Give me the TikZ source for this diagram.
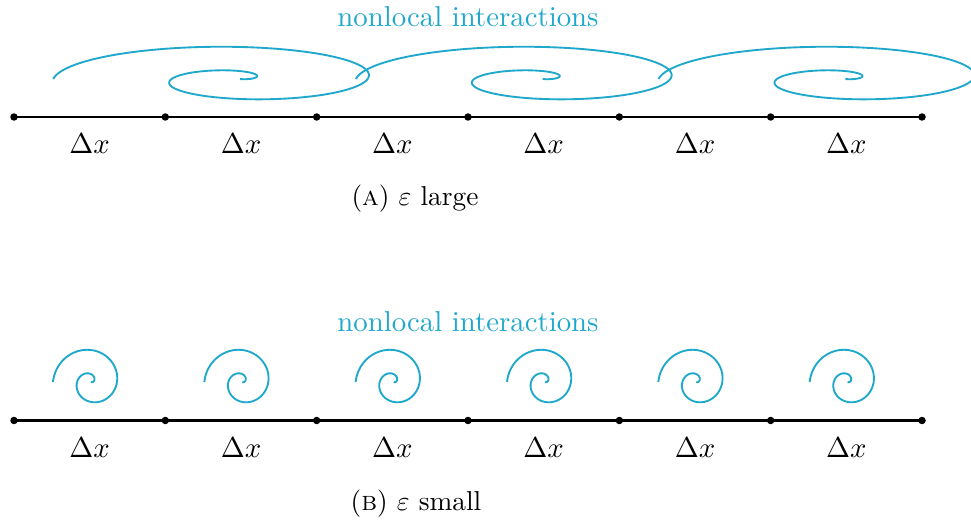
\documentclass[tikz,border=0pt]{standalone}
\usepackage{amsmath}
\definecolor{nlblue}{RGB}{32,168,204}
\newcommand{\spiralat}[4]{%
  \draw[spiralline] plot[domain=0:568,samples=220,smooth,variable=\t]
    ({#1+#3*(1-\t/568)*cos(180-\t)},{#2-#4*(1-\t/568)*sin(180-\t)});}
\begin{document}
\begin{tikzpicture}[x=0.3472pt,y=-0.3472pt,
  dotnode/.style={circle,fill=black,inner sep=0pt,minimum size=2.6pt},
  axisline/.style={line width=0.75pt},
  spiralline/.style={nlblue,line width=0.65pt},
  lbl/.style={anchor=base,inner sep=0pt},
  nltext/.style={anchor=base,inner sep=0pt,text=nlblue},
  captext/.style={anchor=base,inner sep=0pt,scale=0.95}]
\useasboundingbox (0,0) rectangle (971,522);
% ---------- axes ----------
\foreach \i/\xx in {0/14,1/165.33,2/316.67,3/468,4/619.33,5/770.67,6/922}{
  \node[dotnode] (a\i) at (\xx,117) {};
  \node[dotnode] (b\i) at (\xx,420.5) {};
}
\draw[axisline] (a0.center) -- (a6.center);
\draw[axisline] (b0.center) -- (b6.center);
\foreach \i/\xx in {0/89.67,1/241,2/392.33,3/543.67,4/695,5/846.33}{
  \node[lbl] (la\i) at (\xx,153) {$\Delta x$};
  \node[lbl] (lb\i) at (\xx,457) {$\Delta x$};
}
\node[nltext] (nla) at (468,27) {nonlocal interactions};
\node[nltext] (nlb) at (468,331) {nonlocal interactions};
% ---------- spirals ----------
\spiralat{240}{79}{186.8}{38.07}
\spiralat{542.67}{79}{186.8}{38.07}
\spiralat{845.33}{79}{186.8}{38.07}
\foreach \xx in {91,242.33,393.67,545,696.33,847.67}{
  \spiralat{\xx}{382}{38}{38}
}
\node[captext] (capa) at (415,205.5) {(\textsc{a}) $\varepsilon$ large};
\node[captext] (capb) at (416,510) {(\textsc{b}) $\varepsilon$ small};
\end{tikzpicture}
\end{document}
